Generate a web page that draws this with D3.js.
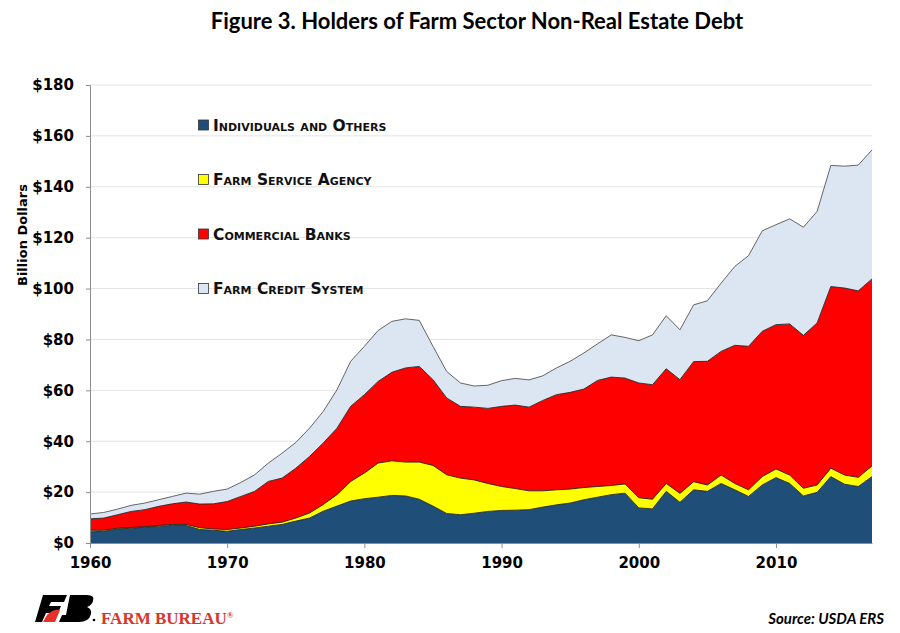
<!DOCTYPE html>
<html>
<head>
<meta charset="utf-8">
<script src="https://cdnjs.cloudflare.com/ajax/libs/d3/7.8.5/d3.min.js"></script>
<style>
  body { margin: 0; background: #fff; }
  text { font-family: "DejaVu Sans", sans-serif; }
</style>
</head>
<body>
<div id="chart"></div>
<script>
// years and holders of farm sector non-real estate debt, billion dollars
var years = d3.range(1960, 2018);

var individuals = [4.4, 4.6, 5.5, 5.8, 6.2, 6.6, 6.9, 6.9, 5.3, 5.0,
  4.6, 5.3, 5.9, 6.6, 7.3, 8.6, 9.8, 12.5, 14.5, 16.5,
  17.4, 18.0, 18.7, 18.5, 17.2, 14.5, 11.6, 11.1, 11.7, 12.4,
  12.8, 12.9, 13.1, 14.1, 15.0, 15.7, 17.0, 18.0, 19.0, 19.6,
  13.8, 13.4, 20.3, 16.0, 20.9, 20.3, 23.4, 20.9, 18.3, 22.8,
  25.7, 23.4, 18.5, 19.9, 26.1, 23.1, 22.2, 26.1];

var fsa = [0.6, 0.4, 0.3, 0.3, 0.2, 0.3, 0.4, 0.4, 0.7, 0.5,
  0.7, 0.6, 0.7, 0.9, 0.9, 1.2, 2.0, 2.6, 4.5, 7.7,
  10.1, 13.4, 13.6, 13.3, 14.6, 16.0, 15.2, 14.4, 13.1, 11.0,
  9.4, 8.5, 7.4, 6.4, 5.9, 5.5, 4.8, 4.2, 3.6, 3.6,
  4.0, 3.8, 3.1, 3.5, 3.2, 2.5, 3.3, 2.5, 2.6, 3.3,
  3.4, 3.3, 3.0, 2.9, 3.3, 3.6, 3.6, 4.2];

var banks = [4.5, 4.8, 5.3, 6.3, 6.7, 7.5, 8.1, 8.8, 9.3, 9.9,
  11.0, 12.4, 13.7, 16.7, 17.3, 19.6, 22.2, 24.2, 26.1, 29.5,
  30.8, 32.1, 34.8, 37.0, 37.6, 33.7, 30.2, 28.2, 28.6, 29.5,
  31.5, 32.8, 32.9, 35.5, 37.4, 38.0, 38.7, 41.7, 42.6, 41.6,
  45.1, 45.0, 45.1, 44.7, 47.2, 48.6, 48.6, 54.3, 56.4, 57.1,
  56.7, 59.4, 60.1, 63.7, 71.4, 73.5, 73.3, 73.5];

var fcs = [1.9, 2.2, 2.2, 2.4, 2.6, 2.6, 2.9, 3.5, 3.9, 4.9,
  4.9, 5.5, 6.5, 7.2, 9.8, 10.1, 11.1, 12.4, 15.1, 17.7,
  19.0, 20.0, 20.0, 19.3, 18.1, 13.1, 10.4, 9.2, 8.3, 9.1,
  10.1, 10.5, 10.7, 9.7, 10.5, 12.2, 14.2, 14.4, 16.6, 16.0,
  16.6, 19.6, 20.8, 19.6, 22.3, 23.8, 26.8, 31.0, 35.6, 39.5,
  39.3, 41.3, 42.5, 43.8, 47.6, 47.9, 49.4, 50.7];

var keys = ["individuals", "fsa", "banks", "fcs"];
var labels = ["Individuals and Others", "Farm Service Agency", "Commercial Banks", "Farm Credit System"];
var colors = ["#1f4e79", "#ffff00", "#ff0000", "#dce6f2"];
var yTicks = [0, 20, 40, 60, 80, 100, 120, 140, 160, 180];
var xTicks = [1960, 1970, 1980, 1990, 2000, 2010];

var data = years.map(function(yr, i) {
  return {year: yr, individuals: individuals[i], fsa: fsa[i], banks: banks[i], fcs: fcs[i]};
});

var W = 900, H = 633;
var margin = {top: 85, right: 28, bottom: 90, left: 90};
var width = W - margin.left - margin.right;
var height = H - margin.top - margin.bottom;

var root = d3.select("#chart").append("svg")
    .attr("width", W)
    .attr("height", H);

var svg = root.append("g")
    .attr("transform", "translate(" + margin.left + "," + margin.top + ")");

var x = d3.scaleLinear().domain([1960, 2017]).range([0, width]);
var y = d3.scaleLinear().domain([0, 180]).range([height, 0]);

// gridlines
svg.selectAll(".grid")
    .data(yTicks.slice(1))
  .enter().append("line")
    .attr("x1", 0)
    .attr("x2", width)
    .attr("y1", function(d) { return y(d); })
    .attr("y2", function(d) { return y(d); })
    .attr("stroke", "#e3e3e3")
    .attr("stroke-width", 1);

var series = d3.stack().keys(keys)(data);

var area = d3.area()
    .x(function(d) { return x(d.data.year); })
    .y0(function(d) { return y(d[0]); })
    .y1(function(d) { return y(d[1]); });

var topline = d3.line()
    .x(function(d) { return x(d.data.year); })
    .y(function(d) { return y(d[1]); });

svg.selectAll(".layer")
    .data(series)
  .enter().append("path")
    .attr("d", area)
    .attr("fill", function(d, i) { return colors[i]; });

svg.selectAll(".edge")
    .data(series)
  .enter().append("path")
    .attr("d", topline)
    .attr("fill", "none")
    .attr("stroke", function(d, i) { return i == 3 ? "#555" : "#222"; })
    .attr("stroke-width", 0.9);

// y axis
var yAxis = svg.append("g")
    .call(d3.axisLeft(y).tickValues(yTicks).tickSize(4).tickPadding(12)
      .tickFormat(function(d) { return "$" + d; }));
yAxis.selectAll("text")
    .attr("font-size", 15)
    .attr("font-weight", "bold")
    .attr("fill", "#000")
    .style("font-family", "DejaVu Sans");
yAxis.selectAll("line, path").attr("stroke", "#8c8c8c");

// x axis
var xAxis = svg.append("g")
    .attr("transform", "translate(0," + height + ")")
    .call(d3.axisBottom(x).tickValues(xTicks).tickSize(5).tickSizeOuter(0).tickPadding(9)
      .tickFormat(d3.format("d")));
xAxis.selectAll("text")
    .attr("font-size", 15)
    .attr("font-weight", "bold")
    .attr("fill", "#000")
    .style("font-family", "DejaVu Sans");
xAxis.selectAll("line, path").attr("stroke", "#8c8c8c");

// y label
root.append("text")
    .attr("transform", "translate(27," + 235 + ") rotate(-90)")
    .style("text-anchor", "middle")
    .attr("font-size", 13)
    .attr("font-weight", "bold")
    .text("Billion Dollars");

// title
root.append("text")
    .attr("x", 477)
    .attr("y", 29)
    .style("text-anchor", "middle")
    .style("font-family", "Lato")
    .attr("font-size", 22)
    .attr("font-weight", "bold")
    .text("Figure 3. Holders of Farm Sector Non-Real Estate Debt");

// legend
var legend = root.selectAll(".legend")
    .data(labels)
  .enter().append("g")
    .attr("transform", function(d, i) { return "translate(198," + (125 + i * 54.5) + ")"; });

legend.append("rect")
    .attr("x", 0.5)
    .attr("y", -5)
    .attr("width", 10)
    .attr("height", 10)
    .attr("fill", function(d, i) { return colors[i]; })
    .attr("stroke", "#333")
    .attr("stroke-width", 0.8);

legend.append("text")
    .attr("x", 15)
    .attr("y", 5.5)
    .attr("font-size", 15.5)
    .attr("font-weight", "bold")
    .style("font-variant", "small-caps")
    .attr("fill", "#111")
    .text(function(d) { return d; });

// footer logo
var logo = root.append("g").attr("transform", "translate(35,595)");
logo.append("path")
    .attr("d", "M8,0 L32,0 L29,7 L16,7 L14,11 L26,11 L23,18 L11,18 L7,27 L0,27 Z")
    .attr("fill", "#000");
logo.append("path")
    .attr("d", "M12,20 Q18,14 25,15 L20,27 L8,27 Z")
    .attr("fill", "#e8302a");
logo.append("path")
    .attr("d", "M35,0 L52,0 Q60,0 58,6 Q57,10 52,12 Q57,14 56,19 Q54,27 44,27 L24,27 L27,20 L31,20 Z")
    .attr("fill", "#000");
logo.append("circle").attr("cx", 59).attr("cy", 25).attr("r", 1.3).attr("fill", "#000");

var fb = root.append("text")
    .attr("x", 101)
    .attr("y", 624)
    .attr("font-size", 17)
    .attr("font-weight", "bold")
    .attr("fill", "#d7342d")
    .style("font-family", "Liberation Serif");
fb.append("tspan").text("FARM BUREAU");
fb.append("tspan").attr("font-size", 9).attr("dy", -6).text("®");

root.append("text")
    .attr("x", 884)
    .attr("y", 624)
    .style("text-anchor", "end")
    .style("font-family", "Lato")
    .attr("font-size", 15)
    .attr("font-weight", "bold")
    .attr("font-style", "italic")
    .text("Source: USDA ERS");
</script>
</body>
</html>
